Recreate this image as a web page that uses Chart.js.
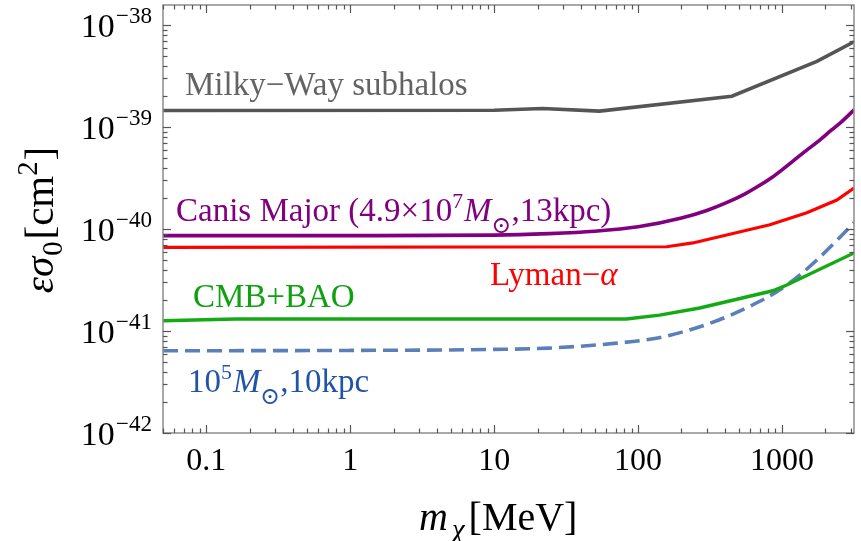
<!DOCTYPE html>
<html>
<head>
<meta charset="utf-8">
<script src="https://cdn.jsdelivr.net/npm/chart.js@4.4.1/dist/chart.umd.min.js"></script>
<style>
  html, body { margin: 0; padding: 0; background: #fff; }
  #wrap { width: 861px; height: 541px; }
</style>
</head>
<body>
<div id="wrap"><canvas id="limitsChart" width="861" height="541"></canvas></div>
<script>
const SERIF = '"Liberation Serif", "Times New Roman", "DejaVu Serif", serif';

// m_chi [MeV] and eps*sigma_0 [cm^2]
const milkyWayMass  = [0.05, 10, 21.7, 54, 448, 1746, 3162];
const milkyWaySigma = [1.45e-39, 1.46e-39, 1.52e-39, 1.43e-39, 2.0e-39, 4.4e-39, 6.85e-39];

const canisMass  = [0.05, 1, 10, 24, 50, 100, 200, 300, 400, 550, 700, 850, 1000, 1250, 1500, 1800, 2200, 2600, 3162];
const canisSigma = [8.6e-41, 8.6e-41, 8.7e-41, 9.0e-41, 9.5e-41, 1.05e-40, 1.28e-40, 1.52e-40, 1.78e-40, 2.2e-40,
                    2.68e-40, 3.2e-40, 3.8e-40, 4.9e-40, 6.0e-40, 7.3e-40, 9.3e-40, 1.13e-39, 1.47e-39];

const lymanMass  = [0.05, 158, 240, 823, 1486, 2404, 3162];
const lymanSigma = [6.6e-41, 6.7e-41, 7.3e-41, 1.1e-40, 1.44e-40, 1.92e-40, 2.52e-40];

const cmbMass  = [0.05, 0.16, 83, 141, 268, 863, 1079, 3162];
const cmbSigma = [1.26e-41, 1.31e-41, 1.31e-41, 1.43e-41, 1.68e-41, 2.48e-41, 2.82e-41, 5.82e-41];

const dwarfMass  = [0.05, 1, 10, 24, 71, 140, 204, 300, 413, 600, 920, 1300, 1746, 2400, 3162];
const dwarfSigma = [6.4e-42, 6.45e-42, 6.6e-42, 6.8e-42, 7.6e-42, 8.6e-42, 9.8e-42, 1.16e-41, 1.38e-41, 1.75e-41,
                    2.43e-41, 3.45e-41, 4.97e-41, 7.7e-41, 1.15e-40];

const xTickValues = [0.1, 1, 10, 100, 1000];
const xTickLabels = ['0.1', '1', '10', '100', '1000'];
const yTickExponents = [-42, -41, -40, -39, -38];

const toPoints = (xs, ys) => xs.map((v, i) => ({ x: v, y: ys[i] }));

// text made of runs (italic / superscript / subscript pieces)
function runFont(r, base) {
  const size = (r.sup || r.sub || r.sun) ? base * (r.scale || 0.66) : base;
  return (r.italic ? 'italic ' : '') + size + 'px ' + SERIF;
}
function runsWidth(ctx, runs, base) {
  let w = 0;
  runs.forEach(r => {
    ctx.font = runFont(r, base);
    w += ctx.measureText(r.t).width + (r.gap || 0);
  });
  return w;
}
function drawRuns(ctx, x, y, runs, base) {
  let cx = x;
  runs.forEach(r => {
    ctx.font = runFont(r, base);
    let dy = 0;
    if (r.sup) dy = -base * 0.4;
    if (r.sub) dy = base * 0.22;
    if (r.sun) dy = base * 0.36;
    ctx.fillText(r.t, cx, y + dy);
    cx += ctx.measureText(r.t).width + (r.gap || 0);
  });
}

const labels = [
  { color: '#636363', x: 185, y: 95, runs: [{ t: 'Milky\u2212Way subhalos' }] },
  { color: '#800080', x: 176, y: 221, runs: [
    { t: 'Canis Major (4.9\u00d710' }, { t: '7', sup: true, gap: 1 }, { t: 'M', italic: true },
    { t: '\u2299', sun: true, scale: 0.72 }, { t: ',13kpc)' }] },
  { color: '#ff0000', x: 490, y: 285, runs: [{ t: 'Lyman\u2212' }, { t: '\u03b1', italic: true }] },
  { color: '#10a010', x: 193, y: 307, runs: [{ t: 'CMB+BAO' }] },
  { color: '#1f54a8', x: 188, y: 392, runs: [
    { t: '10' }, { t: '5', sup: true, gap: 1 }, { t: 'M', italic: true },
    { t: '\u2299', sun: true, scale: 0.72 }, { t: ',10kpc' }] }
];

const framePlugin = {
  id: 'framePlugin',
  afterDatasetsDraw(chart) {
    const { ctx, chartArea: a, scales: { x, y } } = chart;
    ctx.save();
    ctx.strokeStyle = '#8c8c8c';
    ctx.lineWidth = 1.5;
    ctx.strokeRect(a.left, a.top, a.right - a.left, a.bottom - a.top);

    ctx.strokeStyle = '#555';
    ctx.lineWidth = 1.2;
    const tick = (x1, y1, x2, y2) => { ctx.beginPath(); ctx.moveTo(x1, y1); ctx.lineTo(x2, y2); ctx.stroke(); };

    // x ticks, top and bottom, pointing inward
    for (let e = -2; e <= 3; e++) {
      for (let k = 1; k <= 9; k++) {
        const v = k * Math.pow(10, e);
        if (v < x.min * 0.999 || v > x.max) continue;
        const px = Math.round(x.getPixelForValue(v)) + 0.5;
        const len = k === 1 ? 8 : 4.5;
        tick(px, a.bottom, px, a.bottom - len);
        tick(px, a.top, px, a.top + len);
      }
    }
    // y ticks, left and right
    for (let e = -42; e <= -38; e++) {
      for (let k = 1; k <= 9; k++) {
        const v = k * Math.pow(10, e);
        if (v > y.max) continue;
        const py = Math.round(y.getPixelForValue(v)) + 0.5;
        const len = k === 1 ? 8 : 4.5;
        tick(a.left, py, a.left + len, py);
        tick(a.right, py, a.right - len, py);
      }
    }

    // tick labels
    ctx.fillStyle = '#000';
    ctx.textBaseline = 'alphabetic';
    ctx.textAlign = 'center';
    ctx.font = '32px ' + SERIF;
    xTickValues.forEach((v, i) => {
      ctx.fillText(xTickLabels[i], x.getPixelForValue(v), a.bottom + 37);
    });
    ctx.textAlign = 'left';
    yTickExponents.forEach(e => {
      const runs = [{ t: '10', gap: 1 }, { t: '\u2212' + Math.abs(e), sup: true, scale: 0.68 }];
      const w = runsWidth(ctx, runs, 34);
      drawRuns(ctx, a.left - 11 - w, y.getPixelForValue(Math.pow(10, e)) + 12, runs, 34);
    });

    // curve labels
    labels.forEach(l => {
      ctx.fillStyle = l.color;
      drawRuns(ctx, l.x, l.y, l.runs, 33);
    });

    // axis titles
    ctx.fillStyle = '#000';
    const xt = [{ t: 'm', italic: true, gap: 4 }, { t: '\u03c7', italic: true, sub: true, scale: 0.72, gap: 4 }, { t: '[MeV]' }];
    drawRuns(ctx, 419, 530, xt, 40);

    const yt = [{ t: '\u03b5\u03c3', italic: true, gap: 1 }, { t: '0', sub: true, scale: 0.7, gap: 2 },
                { t: '[cm' }, { t: '2', sup: true, scale: 0.7, gap: 1 }, { t: ']' }];
    const yw = runsWidth(ctx, yt, 41);
    ctx.translate(53, 220);
    ctx.rotate(-Math.PI / 2);
    drawRuns(ctx, -yw / 2, 0, yt, 41);
    ctx.restore();
  }
};

const ctx = document.getElementById('limitsChart').getContext('2d');

new Chart(ctx, {
  type: 'line',
  data: {
    datasets: [
      { label: 'Milky-Way subhalos', data: toPoints(milkyWayMass, milkyWaySigma),
        borderColor: '#555555', borderWidth: 3.6 },
      { label: 'Canis Major', data: toPoints(canisMass, canisSigma),
        borderColor: '#800080', borderWidth: 3.6, cubicInterpolationMode: 'monotone' },
      { label: 'Lyman-alpha', data: toPoints(lymanMass, lymanSigma),
        borderColor: '#ff0000', borderWidth: 3.2 },
      { label: 'CMB+BAO', data: toPoints(cmbMass, cmbSigma),
        borderColor: '#14aa14', borderWidth: 3.4 },
      { label: '1e5 Msun, 10kpc', data: toPoints(dwarfMass, dwarfSigma),
        borderColor: '#5b7fb9', borderWidth: 3.6, borderDash: [15, 7], cubicInterpolationMode: 'monotone' }
    ]
  },
  options: {
    responsive: false,
    animation: false,
    devicePixelRatio: 1,
    layout: { padding: { top: 5, right: 7, left: 0, bottom: 0 } },
    elements: { point: { radius: 0 }, line: { fill: false } },
    plugins: { legend: { display: false }, tooltip: { enabled: false } },
    scales: {
      x: {
        type: 'logarithmic', min: 0.05, max: 3162,
        grid: { display: false }, border: { display: false },
        ticks: { display: false },
        afterFit: s => { s.height = 108; }
      },
      y: {
        type: 'logarithmic', min: 1e-42, max: 1.57e-38,
        grid: { display: false }, border: { display: false },
        ticks: { display: false },
        afterFit: s => { s.width = 163; }
      }
    }
  },
  plugins: [framePlugin]
});
</script>
</body>
</html>
